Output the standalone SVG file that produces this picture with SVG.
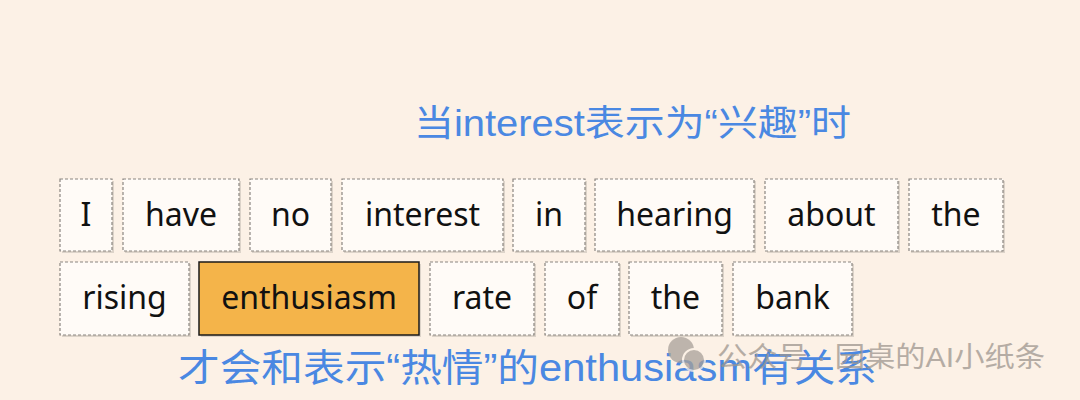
<svg xmlns="http://www.w3.org/2000/svg" width="1080" height="400" viewBox="0 0 1080 400">
<style>
.box{fill:#FFFBF7;stroke:#8a8580;stroke-width:1.2;stroke-dasharray:3 2}
.sh{fill:#DCD3C9}
.hl{fill:#F4B44A;stroke:#1a1a1a;stroke-width:1.5}
.w{font-family:"Noto Sans","Open Sans",sans-serif;font-size:32px;fill:#111;text-anchor:middle}
.t{font-family:"Liberation Sans","Noto Sans CJK SC",sans-serif;fill:#4A88E2}
.wm{font-family:"Liberation Sans","Noto Sans CJK SC",sans-serif;font-size:28px;fill:#9E968F}
</style>
<rect width="1080" height="400" fill="#FCF1E6"/>
<text class="t" x="414" y="136" font-size="36" textLength="437" lengthAdjust="spacingAndGlyphs">当interest表示为“兴趣”时</text>
<g id="row1">
<g id="n-I"><rect class="sh" x="62" y="181" width="52" height="72"/><rect class="box" x="60" y="179" width="52" height="72"/><text class="w" x="86" y="226">I</text></g>
<g id="n-have"><rect class="sh" x="125" y="181" width="116" height="72"/><rect class="box" x="123" y="179" width="116" height="72"/><text class="w" x="181" y="226">have</text></g>
<g id="n-no"><rect class="sh" x="252" y="181" width="81" height="72"/><rect class="box" x="250" y="179" width="81" height="72"/><text class="w" x="290.5" y="226">no</text></g>
<g id="n-interest"><rect class="sh" x="344" y="181" width="161" height="72"/><rect class="box" x="342" y="179" width="161" height="72"/><text class="w" x="422.5" y="226">interest</text></g>
<g id="n-in"><rect class="sh" x="515" y="181" width="72" height="72"/><rect class="box" x="513" y="179" width="72" height="72"/><text class="w" x="549" y="226">in</text></g>
<g id="n-hearing"><rect class="sh" x="597" y="181" width="159" height="72"/><rect class="box" x="595" y="179" width="159" height="72"/><text class="w" x="674.5" y="226">hearing</text></g>
<g id="n-about"><rect class="sh" x="767" y="181" width="133" height="72"/><rect class="box" x="765" y="179" width="133" height="72"/><text class="w" x="831.5" y="226">about</text></g>
<g id="n-the1"><rect class="sh" x="911" y="181" width="94" height="72"/><rect class="box" x="909" y="179" width="94" height="72"/><text class="w" x="956" y="226">the</text></g>
</g>
<g id="row2">
<g id="n-rising"><rect class="sh" x="62" y="264" width="129" height="73"/><rect class="box" x="60" y="262" width="129" height="73"/><text class="w" x="124.5" y="309">rising</text></g>
<g id="n-enthusiasm"><rect class="sh" x="201" y="264" width="220" height="73"/><rect class="hl" x="199" y="262" width="220" height="73"/><text class="w" x="309" y="309">enthusiasm</text></g>
<g id="n-rate"><rect class="sh" x="432" y="264" width="104" height="73"/><rect class="box" x="430" y="262" width="104" height="73"/><text class="w" x="482" y="309">rate</text></g>
<g id="n-of"><rect class="sh" x="547" y="264" width="74" height="73"/><rect class="box" x="545" y="262" width="74" height="73"/><text class="w" x="582" y="309">of</text></g>
<g id="n-the2"><rect class="sh" x="631" y="264" width="93" height="73"/><rect class="box" x="629" y="262" width="93" height="73"/><text class="w" x="675.5" y="309">the</text></g>
<g id="n-bank"><rect class="sh" x="735" y="264" width="119" height="73"/><rect class="box" x="733" y="262" width="119" height="73"/><text class="w" x="792.5" y="309">bank</text></g>
</g>
<g id="connectors"/>
<text class="t" x="178" y="381" font-size="38" textLength="699" lengthAdjust="spacingAndGlyphs">才会和表示“热情”的enthusiasm有关系</text>
<g id="watermark" opacity="0.75">
<circle cx="681" cy="350" r="13" fill="#A8A099"/>
<circle cx="694" cy="360" r="11" fill="#A8A099" stroke="#FCF1E6" stroke-width="2"/>
<text class="wm" x="717" y="367" textLength="328" lengthAdjust="spacingAndGlyphs">公众号 · 园桌的AI小纸条</text>
</g>
</svg>
